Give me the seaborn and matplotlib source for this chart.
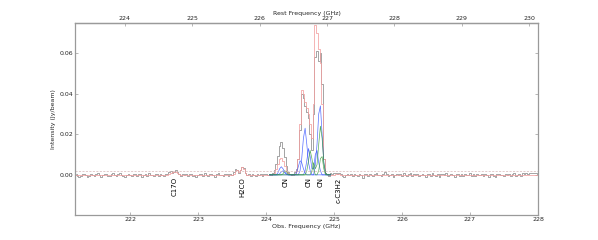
import numpy as np
import pandas as pd
import matplotlib
matplotlib.use("Agg")
import matplotlib.pyplot as plt
import seaborn as sns

sns.set_theme(style="white")
plt.rcParams["font.family"] = ["DejaVu Sans"]

# ---------------- data ----------------
CHAN_START = 221.2      # GHz, first channel (observed frame)
CHAN_WIDTH = 0.025      # GHz
REST_OVER_OBS = 1.00935 # rest / observed frequency ratio

# observed spectrum (mJy/beam), three consecutive segments
data_pre = [
    0.2, -0.5, -1.2, -0.8, 0.3, 0.6, -0.2, -0.9, -0.4, 0.5,
    0.1, -0.6, 0.4, 0.8, -0.3, -1.0, -0.2, 0.5, 0.2, -0.4,
    -0.8, 0.3, 0.7, -0.1, -0.6, 0.2, 0.9, 0.1, -0.5, -1.1,
    -0.3, 0.4, 0.1, -0.7, 0.5, 0.2, -0.4, 0.6, 0.3, -0.9,
    -0.2, 0.3, -0.5, 0.7, 0.1, -0.3, -0.8, 0.4, 0.2, -0.6,
    0.5, -0.1, -0.7, 0.3, 0.6, 1.2, 1.8, 1.0, 1.6, 2.2,
    1.2, 0.2, -0.5, 0.4, -0.3, 0.6, -0.8, 0.2, 0.5, -0.4,
    0.1, -0.9, -0.2, 0.6, 0.3, -0.5, 0.8, -0.1, -0.6, 0.2,
    0.4, -0.3, -1.0, 0.3, 0.7, -0.2, 0.1, -0.7, 0.5, 0.2,
    -0.4, 0.6, 0.1, 1.5, 3.0, 2.2, 0.8, 2.5, 4.0, 3.2,
    1.0, -0.2, 0.4, -0.6, 0.3, 0.1, -0.5, 0.5, -0.2, 0.3,
    -0.4, 0.2, 0.6, -0.1,
]
data_lines = [
    0.3, 0.0, 0.8, 2.5, 5.5, 9.5, 14.0, 16.0, 13.0, 9.0,
    4.5, 1.5, 0.5, -0.3, 0.5, 1.5, 3.0, 8.0, 22.0, 40.0,
    38.0, 34.0, 31.0, 28.0, 20.0, 12.0, 30.0, 58.0, 61.0, 56.0,
    60.0, 45.0, 8.0, 1.0, 0.5, -0.5, 0.8,
]
data_post = [
    0.4, 0.9, 1.0, 0.6, 1.1, 0.3, -0.6, -1.0, -0.2, 0.5,
    -0.3, 0.2, -0.7, 0.4, 0.1, -0.5, 0.6, -0.2, -1.6, 0.3,
    0.5, -0.4, 0.2, -0.1, -0.8, 0.3, 0.7, -0.2, 0.1, -0.6,
    0.4, 1.2, 0.2, -0.5, -0.2, 0.6, -0.9, 0.1, 0.5, -0.3,
    0.2, -0.7, 0.8, -0.1, -0.4, 0.3, 0.9, -0.6, 0.2, -0.2,
    0.5, -0.8, 0.1, 0.6, -0.3, -1.2, 0.4, 0.2, -0.5, 0.7,
    0.1, -0.4, 0.3, -0.9, 0.5, 0.2, -0.3, 0.8, -0.6, 0.1,
    0.4, -0.2, -1.0, 0.3, 0.6, -0.4, 0.2, -0.7, 0.5, 0.1,
    -0.3, 0.7, -0.5, 0.2, -0.8, 0.4, 0.1, -0.2, 0.6, -0.6,
    0.3, -0.1, -0.9, 0.5, 0.2, -0.4, -1.1, 0.3, 0.6, -0.3,
    0.1, -0.6, 0.4, -0.2, 0.5, -0.8, 0.2, 0.7, -0.4, 0.1,
    0.3, -0.5, 0.8, 0.4, 0.9, 0.6, 1.0, 0.7, 1.1, 0.8,
    0.9, 0.6,
]

# total model (mJy/beam), non-zero pieces
model_c17o = [0.3, 0.9, 1.3, 1.5, 1.3, 0.7, 0.2]          # channels 55-61
model_h2co = [0.5, 2.0, 2.5, 1.5, 2.5, 4.0, 3.0, 1.0]     # channels 93-100
model_lines = [
    0.0, 0.0, 0.3, 1.0, 3.0, 5.5, 8.0, 8.5, 7.0, 4.5,
    2.0, 0.7, 0.2, 0.0, 0.1, 0.5, 2.0, 8.0, 25.0, 42.0,
    40.0, 36.0, 33.0, 30.0, 25.0, 18.0, 35.0, 74.0, 70.0, 62.0,
    55.0, 35.0, 8.0, 1.0, 0.2, 0.0, 0.0,
]                                                         # channels 114-150
model_c3h2 = [0.3, 0.6, 0.3]                              # channels 153-155

# individual hyperfine components on channels 114-150 (mJy/beam)
blue_a = [0, 0, 0, 0, 0, 1.0, 3.0, 4.0, 3.0, 1.5, 0.5, 0, 0, 0, 0, 0, 1.0, 4.0, 7.0, 6.0,
          3.0, 1.0, 0, 0, 0, 0, 0, 0, 0, 0, 0, 0, 0, 0, 0, 0, 0]
blue_b = [0, 0, 0, 0, 0, 0, 0, 0, 0, 0, 0, 0, 0, 0, 0, 0, 0, 0, 2.0, 8.0,
          18.0, 23.0, 15.0, 6.0, 2.0, 0, 0, 5.0, 15.0, 30.0, 34.0, 20.0, 6.0, 1.0, 0, 0, 0]
blue_c = [0, 0, 0, 0, 0, 0, 0.5, 1.5, 2.0, 1.0, 0.3, 0, 0, 0, 0, 0, 0, 0, 0, 0,
          0, 2.0, 7.0, 13.0, 9.0, 3.0, 3.0, 10.0, 12.0, 6.0, 2.0, 0, 0, 0, 0, 0, 0]
green_a = [0, 0, 0, 0, 0, 0, 0, 0, 0.5, 2.0, 1.5, 0.5, 0, 0, 0, 0, 0, 0, 0, 0,
           0, 0, 2.0, 7.0, 12.0, 8.0, 3.0, 0, 0, 2.0, 8.0, 9.0, 3.0, 0, 0, 0, 0]
green_b = [0, 0, 0, 0, 0, 0, 0, 0, 0, 0, 0, 0, 0, 0, 0, 0, 0, 0, 0, 0,
           0, 0, 0, 0, 0, 2.0, 6.0, 3.0, 5.0, 15.0, 24.0, 18.0, 6.0, 1.0, 0, 0, 0]

threshold = 2.0   # mJy/beam, dashed line

line_names = ["C17O", "H2CO", "CN", "CN", "CN", "c-C3H2"]
line_obs_freqs = [222.66, 223.65, 224.29, 224.62, 224.81, 225.07]

bottom_ticks = [222, 223, 224, 225, 226, 227, 228]
top_ticks = [224, 225, 226, 227, 228, 229, 230]
y_ticks = [0.00, 0.02, 0.04, 0.06]

# ---------------- assemble ----------------
n_chan = len(data_pre) + len(data_lines) + len(data_post)
freq = np.round(CHAN_START + CHAN_WIDTH * np.arange(n_chan), 4)
data = np.array(data_pre + data_lines + data_post) * 1e-3

model = np.zeros(n_chan)
model[55:55 + len(model_c17o)] = model_c17o
model[93:93 + len(model_h2co)] = model_h2co
i0 = len(data_pre)
model[i0:i0 + len(model_lines)] = model_lines
model[153:153 + len(model_c3h2)] = model_c3h2
model *= 1e-3

sub_freq = freq[i0:i0 + len(model_lines)]

# ---------------- plot ----------------
FS = 4.5
fig = plt.figure(figsize=(5.98, 2.4), dpi=100)
ax = fig.add_axes([0.1254, 0.104, 0.7742, 0.80])

sns.lineplot(x=freq, y=data, ax=ax, color="#8c8c8c", lw=0.55,
             drawstyle="steps-mid", estimator=None, sort=False)
sns.lineplot(x=freq, y=model, ax=ax, color="#f2a0a0", lw=0.55,
             drawstyle="steps-mid", estimator=None, sort=False)
for comp in (blue_a, blue_b, blue_c):
    sns.lineplot(x=sub_freq, y=np.array(comp) * 1e-3, ax=ax, color="#2d4cff",
                 lw=0.5, estimator=None, sort=False, alpha=0.8)
for comp in (green_a, green_b):
    sns.lineplot(x=sub_freq, y=np.array(comp) * 1e-3, ax=ax, color="#2e9a2e",
                 lw=0.5, estimator=None, sort=False, alpha=0.8)

ax.axhline(threshold * 1e-3, color="#d8b8b8", lw=0.5, ls=(0, (3, 2)))

for name, f in zip(line_names, line_obs_freqs):
    ax.text(f, -0.0012, name, rotation=90, ha="center", va="top",
            fontsize=5, color="black")

ax.set_xlim(221.19, 228.0)
ax.set_ylim(-0.0198, 0.0748)
ax.set_xticks(bottom_ticks)
ax.set_xticklabels([str(t) for t in bottom_ticks])
ax.set_yticks(y_ticks)
ax.set_yticklabels([f"{t:.2f}" for t in y_ticks])
ax.set_xlabel("Obs. Frequency (GHz)", fontsize=FS, labelpad=1)
ax.set_ylabel("Intensity (Jy/beam)", fontsize=FS, labelpad=2)

spine_col = "#9a9a9a"
for s in ax.spines.values():
    s.set_color(spine_col)
    s.set_linewidth(0.9)
ax.tick_params(axis="both", which="both", direction="in", length=2,
               width=0.5, color=spine_col, labelsize=FS, pad=1.5,
               right=True, left=True, bottom=True, top=False)

sec = ax.secondary_xaxis("top", functions=(lambda x: x * REST_OVER_OBS,
                                           lambda x: x / REST_OVER_OBS))
sec.set_xticks(top_ticks)
sec.set_xticklabels([str(t) for t in top_ticks])
sec.tick_params(direction="in", length=2, width=0.5, color=spine_col,
                labelsize=FS, pad=1.5)
sec.spines["top"].set_color(spine_col)
sec.spines["top"].set_linewidth(0.9)
sec.set_xlabel("Rest Frequency (GHz)", fontsize=FS, labelpad=1)

fig.savefig("out.png", dpi=100)
